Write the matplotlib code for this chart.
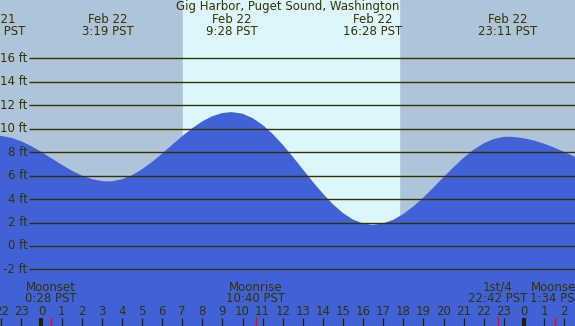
import matplotlib
matplotlib.use('Agg')
import matplotlib.pyplot as plt

# tide heights (ft), hours relative to Feb 22 00:00 PST
hours = [-2.3, -2, -1.5, -1, -0.5, 0, 0.5, 1, 1.5, 2, 2.5, 3, 3.317, 3.5, 4, 4.5, 5, 5.5, 6, 6.5,
         7, 7.5, 8, 8.5, 9, 9.467, 10, 10.5, 11, 11.5, 12, 12.5, 13, 13.5, 14, 14.5, 15, 15.5, 16,
         16.467, 17, 17.5, 18, 18.5, 19, 19.5, 20, 20.5, 21, 21.5, 22, 22.5, 23, 23.183, 23.5,
         24, 24.5, 25, 25.5, 26, 26.5, 27]
heights = [9.4, 9.37, 9.21, 8.91, 8.49, 8.00, 7.46, 6.92, 6.42, 6.00, 5.70, 5.53, 5.5, 5.51, 5.68,
           6.02, 6.53, 7.15, 7.86, 8.61, 9.35, 10.03, 10.61, 11.05, 11.32, 11.4, 11.26, 10.89,
           10.31, 9.54, 8.62, 7.60, 6.53, 5.46, 4.46, 3.55, 2.80, 2.25, 1.91, 1.8, 1.92, 2.23,
           2.72, 3.37, 4.13, 4.98, 5.86, 6.71, 7.51, 8.20, 8.74, 9.11, 9.29, 9.3, 9.28, 9.17,
           8.98, 8.71, 8.38, 8.01, 7.62, 7.23]

# high / low tide labels
tide_times = [-2.3, 3.317, 9.467, 16.467, 23.183]
tide_labels = ['Feb 21\n21:42 PST', 'Feb 22\n3:19 PST', 'Feb 22\n9:28 PST',
               'Feb 22\n16:28 PST', 'Feb 22\n23:11 PST']

# moon events
moon_times = [0.467, 10.667, 22.7, 25.567]
moon_labels = ['Moonset\n0:28 PST', 'Moonrise\n10:40 PST', '1st/4\n22:42 PST', 'Moonset\n1:34 PST']

sunrise = 7.04
sunset = 17.79

ft_levels = [-2, 0, 2, 4, 6, 8, 10, 12, 14, 16]
hour_ticks = list(range(-2, 27))

title = 'Gig Harbor, Puget Sound, Washington'

NIGHT = '#afc3d9'
DAY = '#ddf6fc'
WATER = '#4162d6'
INK = '#333300'

x0, x1 = -2.064, 26.54
y0, y1 = -6.81, 20.94

fig = plt.figure(figsize=(5.75, 3.26), dpi=100)
ax = fig.add_axes([0, 0, 1, 1])
ax.set_xlim(x0, x1)
ax.set_ylim(y0, y1)
ax.axis('off')

ax.axvspan(x0, x1, color=NIGHT, zorder=0)
ax.axvspan(sunrise, sunset, color=DAY, zorder=1)

ax.fill_between(hours, heights, y0, color=WATER, lw=0, zorder=2)

# grid lines and labels
for lv in ft_levels:
    ax.hlines(lv, -0.62, x1, color=INK, lw=1.0, zorder=3)
    ax.text(-0.7, lv, f'{lv} ft', ha='right', va='center', fontsize=8.5, color=INK, zorder=4)

ax.text((x0 + x1) / 2, 20.35, title, ha='center', va='center', fontsize=8.5, color=INK)
for t, lab in zip(tide_times, tide_labels):
    ax.text(t, 18.75, lab, ha='center', va='center', fontsize=8.5, color=INK,
            linespacing=0.9)

for t, lab in zip(moon_times, moon_labels):
    ax.text(t, -4.0, lab, ha='center', va='center', fontsize=8.5, color=INK,
            linespacing=0.82)
    ax.vlines(t, y0, -6.05, color='red', lw=1, zorder=4)

for h in hour_ticks:
    lab = str(h % 24)
    ax.text(h, -5.6, lab, ha='center', va='center', fontsize=8.5, color=INK)
    if h % 24 == 0:
        ax.vlines(h, y0, -6.13, color='#222200', lw=3, zorder=4)
    else:
        ax.vlines(h, y0, -6.13, color='#222200', lw=0.9, zorder=4)

fig.savefig('out.png', dpi=100)
